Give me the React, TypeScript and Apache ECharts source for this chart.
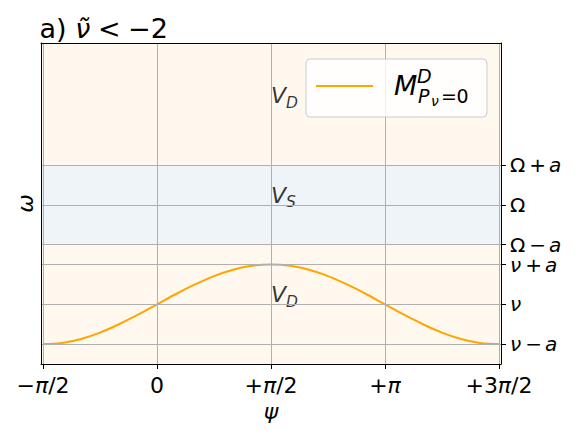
import { useEffect, useRef } from "react";
import * as echarts from "echarts";

// ---- data (ψ in degrees, ω in units where ν = 0 and a = 1) ----
const psiDeg = [-90, -75, -60, -45, -30, -15, 0, 15, 30, 45, 60, 75, 90, 105, 120, 135, 150, 165, 180, 195, 210, 225, 240, 255, 270];
const omegaCurve = [-1, -0.97, -0.87, -0.71, -0.5, -0.26, 0, 0.26, 0.5, 0.71, 0.87, 0.97, 1, 0.97, 0.87, 0.71, 0.5, 0.26, 0, -0.26, -0.5, -0.71, -0.87, -0.97, -1];
const xTicks = [-90, 0, 90, 180, 270];
const xTickLabels = ["{o|−}{p|π}{o|/2}", "{o|0}", "{o|+}{p|π}{o|/2}", "{o|+}{p|π}", "{o|+3}{p|π}{o|/2}"];
const yTicks = [-1, 0, 1, 1.5, 2.5, 3.5];
const yTickLabels = ["{i|ν}{op|−}{i|a}", "{i|ν}", "{i|ν}{op|+}{i|a}", "{u|Ω}{op|−}{i|a}", "{u|Ω}", "{u|Ω}{op|+}{i|a}"];
const sBand = [1.5, 3.5];
const regionPsi = [90, 90, 90];
const regionOmega = [5, 2.5, 0];
const regionSub = ["D", "S", "D"];
const xRange = [-91.6, 271.6];
const yRange = [-1.5, 6.57];

const F = "DejaVu Sans";
const TAN = "#fef8ef";
const BLUE = "#eff4f9";
const ORANGE = "#ffa500";
const GRID = "#b0b0b0";

export default function App() {
  const ref = useRef<HTMLDivElement>(null);
  useEffect(() => {
    if (!ref.current) return;
    const chart = echarts.init(ref.current, undefined, { renderer: "svg" });
    const base = { fontFamily: F, fontSize: 20, color: "#000", fontWeight: "normal" as const };
    const xb = { ...base, fontSize: 22 };
    const tb = { ...base, fontSize: 27, lineHeight: 32 };
    const axisLine = { show: true, onZero: false, lineStyle: { color: "#000", width: 1 } };
    chart.setOption({
      animation: false,
      title: {
        text: "{n|a) }{g|ν̃}{o|<}{m|−}{d|2}",
        left: 39.5,
        top: 12,
        padding: 0,
        textStyle: {
          ...tb,
          rich: {
            n: { ...tb },
            g: { ...tb, fontStyle: "italic" },
            o: { ...tb, padding: [0, 0, 0, 7.8] },
            m: { ...tb, padding: [0, 0, 0, 7.4] },
            d: { ...tb, padding: [0, 0, 0, 0] },
          },
        },
      },
      grid: { left: 41, top: 43, width: 460, height: 321, show: true, backgroundColor: TAN, borderWidth: 0 },
      xAxis: [
        {
          type: "value", min: xRange[0], max: xRange[1], position: "bottom", z: 10,
          axisLine,
          axisTick: { show: true, customValues: xTicks, length: 5, lineStyle: { color: "#000" } },
          axisLabel: {
            customValues: xTicks, margin: 10,
            formatter: (v: number) => xTickLabels[xTicks.indexOf(v)] ?? "",
            rich: { o: { ...xb }, p: { ...xb, fontStyle: "italic" } },
          },
          splitLine: { show: false },
          name: "ψ", nameLocation: "middle", nameGap: 32,
          nameTextStyle: { ...xb, fontStyle: "italic" },
        },
        {
          type: "value", min: xRange[0], max: xRange[1], position: "top", z: 10,
          axisLine, axisTick: { show: false }, axisLabel: { show: false }, splitLine: { show: false },
        },
      ],
      yAxis: [
        {
          type: "value", min: yRange[0], max: yRange[1], position: "right", z: 10,
          axisLine,
          axisTick: { show: true, customValues: yTicks, length: 5, lineStyle: { color: "#000" } },
          axisLabel: {
            customValues: yTicks, margin: 9,
            formatter: (v: number) => yTickLabels[yTicks.indexOf(v)] ?? "",
            rich: {
              i: { ...base, fontStyle: "italic", lineHeight: 17 },
              u: { ...base, lineHeight: 17 },
              op: { ...base, lineHeight: 17, padding: [0, 3, 0, 4] },
            },
          },
          splitLine: { show: false },
        },
        {
          type: "value", min: yRange[0], max: yRange[1], position: "left", z: 10,
          axisLine, axisTick: { show: false }, axisLabel: { show: false }, splitLine: { show: false },
          name: "ω", nameLocation: "middle", nameRotate: 90, nameGap: 5,
          nameTextStyle: { ...xb, fontStyle: "italic" },
        },
      ],
      series: [
        {
          type: "line", data: [], z: 1, silent: true,
          markArea: { silent: true, itemStyle: { color: BLUE }, data: [[{ yAxis: sBand[0] }, { yAxis: sBand[1] }]] },
        },
        {
          type: "line", data: [], z: 2, silent: true,
          markLine: {
            silent: true, symbol: ["none", "none"], label: { show: false },
            lineStyle: { color: GRID, width: 1, type: "solid" },
            data: [...xTicks.map((v) => ({ xAxis: v })), ...yTicks.map((v) => ({ yAxis: v }))],
          },
        },
        {
          type: "line", name: "M", z: 3,
          data: psiDeg.map((x, i) => [x, omegaCurve[i]]),
          showSymbol: false, symbol: "none", smooth: 0.35,
          lineStyle: { color: ORANGE, width: 2 },
        },
        {
          type: "scatter", z: 4, symbolSize: 0, silent: true,
          data: regionPsi.map((x, i) => [x, regionOmega[i], regionSub[i]]),
          label: {
            show: true, position: [0, 0], align: "left", verticalAlign: "bottom", offset: [0, 5.4],
            formatter: (p: any) => `{v|V}{s|${p.data[2]}}`,
            rich: {
              v: { ...base, fontSize: 22, fontStyle: "italic", lineHeight: 26, verticalAlign: "top" },
              s: { ...base, fontSize: 15.5, fontStyle: "italic", lineHeight: 15.5, verticalAlign: "bottom" },
            },
          },
        },
      ],
      graphic: [
        {
          type: "rect", z: 100,
          shape: { x: 306, y: 59, width: 181, height: 58, r: 4 },
          style: { fill: "rgba(255,255,255,0.8)", stroke: "#cccccc", lineWidth: 1 },
        },
        {
          type: "line", z: 101,
          shape: { x1: 316, y1: 86, x2: 373, y2: 86 },
          style: { stroke: ORANGE, lineWidth: 2 },
        },
        { type: "text", z: 101, x: 394, y: 85.5, style: { text: "M", font: `italic 27px "${F}"`, fill: "#000", verticalAlign: "middle" } },
        { type: "text", z: 101, x: 417, y: 76.3, style: { text: "D", font: `italic 19px "${F}"`, fill: "#000", verticalAlign: "middle" } },
        { type: "text", z: 101, x: 418, y: 96.3, style: { text: "P", font: `italic 19px "${F}"`, fill: "#000", verticalAlign: "middle" } },
        { type: "text", z: 101, x: 431, y: 101.3, style: { text: "ν", font: `italic 14px "${F}"`, fill: "#000", verticalAlign: "middle" } },
        { type: "text", z: 101, x: 441, y: 96.3, style: { text: "=", font: `19px "${F}"`, fill: "#000", verticalAlign: "middle" } },
        { type: "text", z: 101, x: 456.5, y: 96.3, style: { text: "0", font: `19px "${F}"`, fill: "#000", verticalAlign: "middle" } },
      ],
    });
    return () => chart.dispose();
  }, []);
  return <div ref={ref} style={{ width: 581, height: 436, position: "absolute", left: 0, top: 0 }} />;
}
